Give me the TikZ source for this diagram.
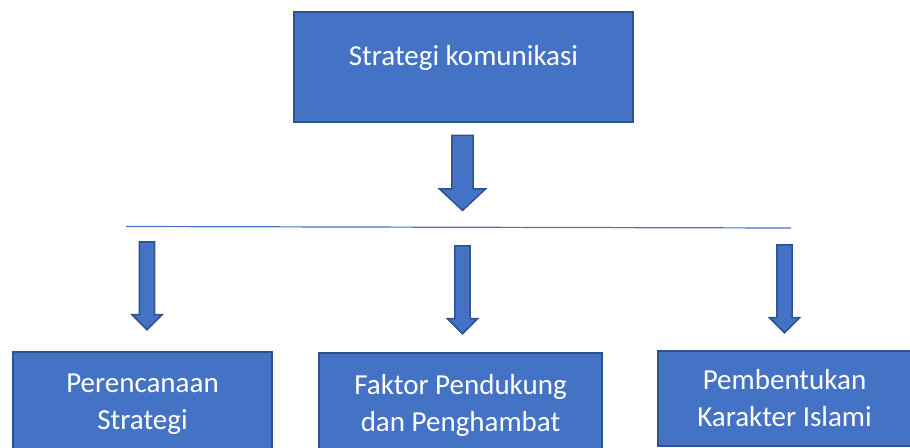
\documentclass[tikz,border=0pt]{standalone}
\usepackage{fontspec}
\setmainfont{Carlito}
\usetikzlibrary{positioning,shapes.arrows}

\begin{document}
\begin{tikzpicture}[x=1pt,y=1pt,font=\fontsize{29}{37}\selectfont]

		\definecolor{OfficeBlue}{HTML}{4472C4}
		\definecolor{OfficeEdge}{HTML}{2F528F}

		\tikzset{
			stratBox/.style={
				draw=OfficeEdge,
				line width=1.5pt,
				fill=OfficeBlue,
				text=white,
				align=center,
				inner sep=0,
				outer sep=0pt,
			},
			bigArrow/.style={
				single arrow,
				draw=OfficeEdge,
				line width=1.5pt,
				fill=OfficeBlue,
				rotate=-90,
				inner xsep=0pt,
				inner ysep=9.8pt,
				single arrow head extend=12.5pt,
				single arrow tip angle=94,
				minimum height=75pt,
				outer sep=0pt,
			},
			smallArrow/.style={
				bigArrow,
				inner ysep=6.8pt,
				single arrow head extend=7.5pt,
				single arrow tip angle=90,
				minimum height=88pt,
			},
		}

		\useasboundingbox (0,0) rectangle (910,-447);

		% Top
		\node[stratBox,minimum width=339pt,minimum height=110pt,text depth=24pt] (top) at (463.5,-67) {Strategi komunikasi};

		% Down to the bar
		\node[bigArrow] (arrTop) at (462.5,-168) {};

		% Bar
		\coordinate (barL) at (126,-226.5);
		\coordinate (barR) at (791,-228);
		\draw[OfficeBlue,line width=1.2pt] (barL) -- (barR);

		% Arrows
		\node[smallArrow] (arrA) at (147,-282) {};
		\node[smallArrow] (arrB) at (462.5,-286) {};
		\node[smallArrow] (arrC) at (784.5,-285) {};

		% Bottom
		\node[stratBox,minimum width=259pt,minimum height=104pt] (plan) at (142.5,-404) {Perencanaan\\Strategi};
		\node[stratBox,minimum width=283pt,minimum height=104pt] (factor) at (460.5,-405) {Faktor Pendukung\\dan Penghambat};
		\node[stratBox,minimum width=253pt,minimum height=95pt] (islam) at (784.5,-398.5) {Pembentukan\\Karakter Islami};

	\end{tikzpicture}
\end{document}
